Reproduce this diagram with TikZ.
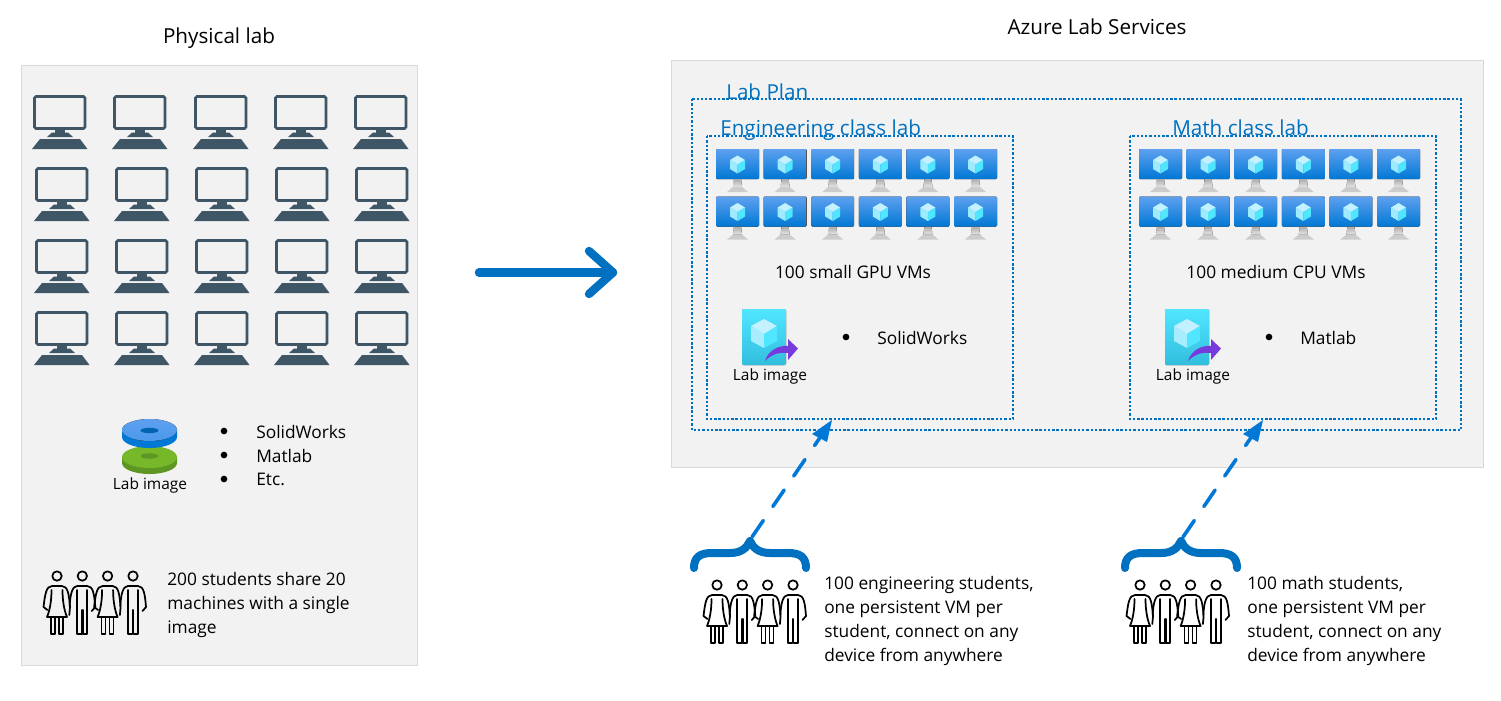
\documentclass[tikz,border=0pt]{standalone}
\usepackage{fontspec}
\setmainfont{Open Sans}
\usetikzlibrary{calc}
\definecolor{panel}{HTML}{F2F2F2}
\definecolor{panelline}{HTML}{D9D9D9}
\definecolor{azblue}{HTML}{0070C0}
\definecolor{azdash}{HTML}{0078D7}
\definecolor{pcslate}{HTML}{3F5666}
\definecolor{vmtop}{HTML}{5EA0EF}
\definecolor{vmbot}{HTML}{0078D4}
\definecolor{greentop}{HTML}{76B82A}
\definecolor{greenside}{HTML}{5E9624}
\definecolor{bluehole}{HTML}{0063B1}
\definecolor{imgtop}{HTML}{50E6FF}
\definecolor{imgbot}{HTML}{32BEDD}
\definecolor{arrowviolet}{HTML}{773ADC}
\definecolor{cubeA}{HTML}{C3F1FF}
\definecolor{cubeB}{HTML}{9CEBFF}
\definecolor{cubeC}{HTML}{50E6FF}
\tikzset{
  x=0.75pt,y=-0.75pt,
  panelbox/.style={fill=panel,draw=panelline,line width=0.75pt},
  dotbox/.style={draw=azblue,line width=0.9pt,dash pattern=on 1.8pt off 1.4pt},
  title/.style={font=\fontsize{15.5}{18}\selectfont,text=black,inner sep=0pt},
  body/.style={font=\fontsize{13}{18}\selectfont,text=black,inner sep=0pt,align=left,anchor=north west},
  small/.style={font=\fontsize{11.6}{13}\selectfont,text=black,inner sep=0pt},
  bluelabel/.style={font=\fontsize{15.5}{18}\selectfont,text=azblue,inner sep=0pt,anchor=base west},
  bulletdot/.style={circle,fill=black,inner sep=0pt,minimum size=5pt},
  dashlink/.style={draw=azdash,line width=2.7pt,line cap=round,dash pattern=on 15pt off 12.7pt},
  bracecurve/.style={draw=azblue,line width=6pt,line cap=round,line join=round},
  bigarrow/.style={draw=azblue,line width=6.3pt,line cap=round,line join=round},
  figline/.style={draw=black,line width=1.3pt,line join=round,line cap=round},
  pcicon/.pic={
    \draw[pcslate,line width=2pt,rounded corners=1.2pt] (1.5,1.5) rectangle (52,33.5);
    \fill[pcslate] (22,34) rectangle (32,38);
    \fill[pcslate] (14,42) -- (19,37.5) -- (35,37.5) -- (40,42) -- cycle;
    \fill[pcslate] (7,44) -- (47,44) -- (54.5,54) -- (-1,54) -- cycle;
  },
  vmicon/.pic={
    \fill[top color=vmtop,bottom color=vmbot,rounded corners=0.8pt] (0,0) rectangle (43,30);
    \fill[top color=gray!65,bottom color=gray!20] (18,30) -- (25,30) -- (26,38) -- (17,38) -- cycle;
    \fill[gray!40] (17,38) -- (26,38) -- (32,43) -- (11,43) -- cycle;
    \fill[cubeA] (21.5,6.5) -- (29,11) -- (21.5,15.5) -- (14,11) -- cycle;
    \fill[cubeB] (14,11) -- (21.5,15.5) -- (21.5,24.5) -- (14,20) -- cycle;
    \fill[cubeC] (29,11) -- (21.5,15.5) -- (21.5,24.5) -- (29,20) -- cycle;
  },
  labimg/.pic={
    \fill[top color=imgtop,bottom color=imgbot,rounded corners=1pt] (0,0) rectangle (44,56);
    \fill[cubeA] (22,10) -- (35,17) -- (22,25) -- (9,17) -- cycle;
    \fill[cubeB!70!cubeA] (9,17) -- (22,25) -- (22,39) -- (9,32) -- cycle;
    \fill[cubeC] (35,17) -- (22,25) -- (22,39) -- (35,32) -- cycle;
    \fill[arrowviolet] (23,52) .. controls (26,42) and (36,36) .. (46,37) -- (46,30) -- (56,39.5) -- (46,51) -- (46,44) .. controls (37,43) and (30,45) .. (23,52) -- cycle;
  },
  female/.pic={
    \draw[figline] (0,-10) circle (4.7);
    \draw[figline] (-9.5,24) -- (-13.5,21) .. controls (-12,9) and (-11,0) .. (-5,0) -- (5,0) .. controls (11,0) and (12,9) .. (13,21) -- (12.3,29);
    \draw[figline] (-5.5,4) .. controls (-5.5,14) and (-7,24) .. (-10,31) -- (10,31) .. controls (7,24) and (5.5,14) .. (5.5,4);
    \draw[figline] (-6,31) -- (-6,48) -- (-2,48) -- (-2,31) (2,31) -- (2,48) -- (6,48) -- (6,31);
  },
  male/.pic={
    \draw[figline] (0,-10) circle (4.7);
    \draw[figline] (-5,0) -- (5,0) .. controls (11,0) and (12,9) .. (13,21) -- (9.5,25);
    \draw[figline] (-5,0) .. controls (-10,0) and (-12,8) .. (-12.7,20);
    \draw[figline] (-5,4) -- (-5,48) -- (-0.6,48) -- (-0.6,24) (0.6,24) -- (0.6,48) -- (5,48) -- (5,4);
  },
  crowd/.pic={
    \pic at (0,0) {female};
    \pic at (25.3,0) {male};
    \pic at (50.6,0) {female};
    \pic at (76,0) {male};
  },
  bracket/.pic={
    \draw[bracecurve] (-56,34) .. controls (-56,23) and (-50,19) .. (-38,19) -- (-20,19) .. controls (-9,19) and (-3,14) .. (0,7) .. controls (3,14) and (9,19) .. (20,19) -- (38,19) .. controls (50,19) and (56,23) .. (56,34);
  },
}
\begin{document}
\begin{tikzpicture}
\useasboundingbox (0,0) rectangle (1501,700);
\fill[white] (0,0) rectangle (1501,700);

% panels
\node[title,anchor=center] (phys) at (219,38) {Physical lab};
\node[title,anchor=center] (azure) at (1097,27) {Azure Lab Services};
\draw[panelbox] (21,65) rectangle (417,665);
\draw[panelbox] (671,60) rectangle (1483,467);

% physical PCs
\foreach \x in {33,113,194,274,354} \pic at (\x,95) {pcicon};
\foreach \y in {167,239,311}
  \foreach \x in {35,115,195,275,355} \pic at (\x,\y) {pcicon};

% disks
\fill[greenside] (122,457) -- (122,463) arc[start angle=180,end angle=0,x radius=27.5,y radius=11] -- (177,457) -- cycle;
\fill[greentop] (149.5,457) ellipse[x radius=27.5,y radius=11];
\fill[greenside] (149.5,456) ellipse[x radius=9,y radius=2.7];
\fill[vmbot] (122,430) -- (122,437) arc[start angle=180,end angle=0,x radius=27.5,y radius=11] -- (177,430) -- cycle;
\fill[top color=vmtop,bottom color=vmtop!80!vmbot] (149.5,430) ellipse[x radius=27.5,y radius=11];
\fill[bluehole] (149.5,430.5) ellipse[x radius=9,y radius=2.7];
\node[small,anchor=center] (lab0) at (150,485) {Lab image};

\node[bulletdot] (b1) at (224,431) {};
\node[bulletdot] (b2) at (224,455) {};
\node[bulletdot] (b3) at (224,479) {};
\node[body,anchor=west] (t1) at (256,431.5) {SolidWorks};
\node[body,anchor=west] (t2) at (256,455.5) {Matlab};
\node[body,anchor=west] (t3) at (256,479.5) {Etc.};

\pic at (57,586) {crowd};
\node[body] (s0) at (167,572.5) {200 students share 20\\machines with a single\\image};

% big arrow
\coordinate (arrowA) at (479,272.5);
\coordinate (arrowB) at (613,272.5);
\coordinate (arrowC) at (589,251);
\coordinate (arrowD) at (589,294);
\draw[bigarrow] (arrowA) -- (arrowB);
\draw[bigarrow] (arrowC) -- (arrowB) -- (arrowD);

% Lab plan boxes
\draw[dotbox] (692,99) rectangle (1461,430);
\draw[dotbox] (707,136) rectangle (1013,419);
\draw[dotbox] (1130,136) rectangle (1436,419);
\node[bluelabel] (lp) at (726,99) {Lab Plan};
\node[bluelabel] (el) at (720,135) {Engineering class lab};
\node[bluelabel] (ml) at (1172,135) {Math class lab};

% VMs
\foreach \ox in {0,423}
  \foreach \y in {149,196.5}
    \foreach \i in {0,...,5}
      \pic at ({716+\ox+47.6*\i},\y) {vmicon};

\node[body,anchor=center] (g1) at (853,272) {100 small GPU VMs};
\node[body,anchor=center] (g2) at (1276,272) {100 medium CPU VMs};

\pic at (742,309) {labimg};
\pic at (1165,309) {labimg};
\node[small,anchor=center] (lab1) at (770,376) {Lab image};
\node[small,anchor=center] (lab2) at (1193,376) {Lab image};
\node[bulletdot] (b4) at (846,337) {};
\node[bulletdot] (b5) at (1269,337) {};
\node[body,anchor=west] (sw) at (877,337.5) {SolidWorks};
\node[body,anchor=west] (mt) at (1300,337.5) {Matlab};

% students
\pic at (717,595) {crowd};
\pic at (1140,595) {crowd};
\pic at (750,534) {bracket};
\pic at (1181,534) {bracket};
\node[body] (s1) at (824,576.5) {100 engineering students,\\one persistent VM per\\student, connect on any\\device from anywhere};
\node[body] (s2) at (1247,576.5) {100 math students,\\one persistent VM per\\student, connect on any\\device from anywhere};

% dashed links
\coordinate (d1a) at (752,537);
\coordinate (d1b) at (832,420);
\coordinate (d2a) at (1183,537);
\coordinate (d2b) at (1263,420);
\draw[dashlink] (d1a) -- ($(d1a)!0.86!(d1b)$);
\draw[dashlink] (d2a) -- ($(d2a)!0.86!(d2b)$);
\fill[azdash] (d1b) -- (812,434) -- (827,442) -- cycle;
\fill[azdash] (d2b) -- (1243,434) -- (1258,442) -- cycle;
\end{tikzpicture}
\end{document}
